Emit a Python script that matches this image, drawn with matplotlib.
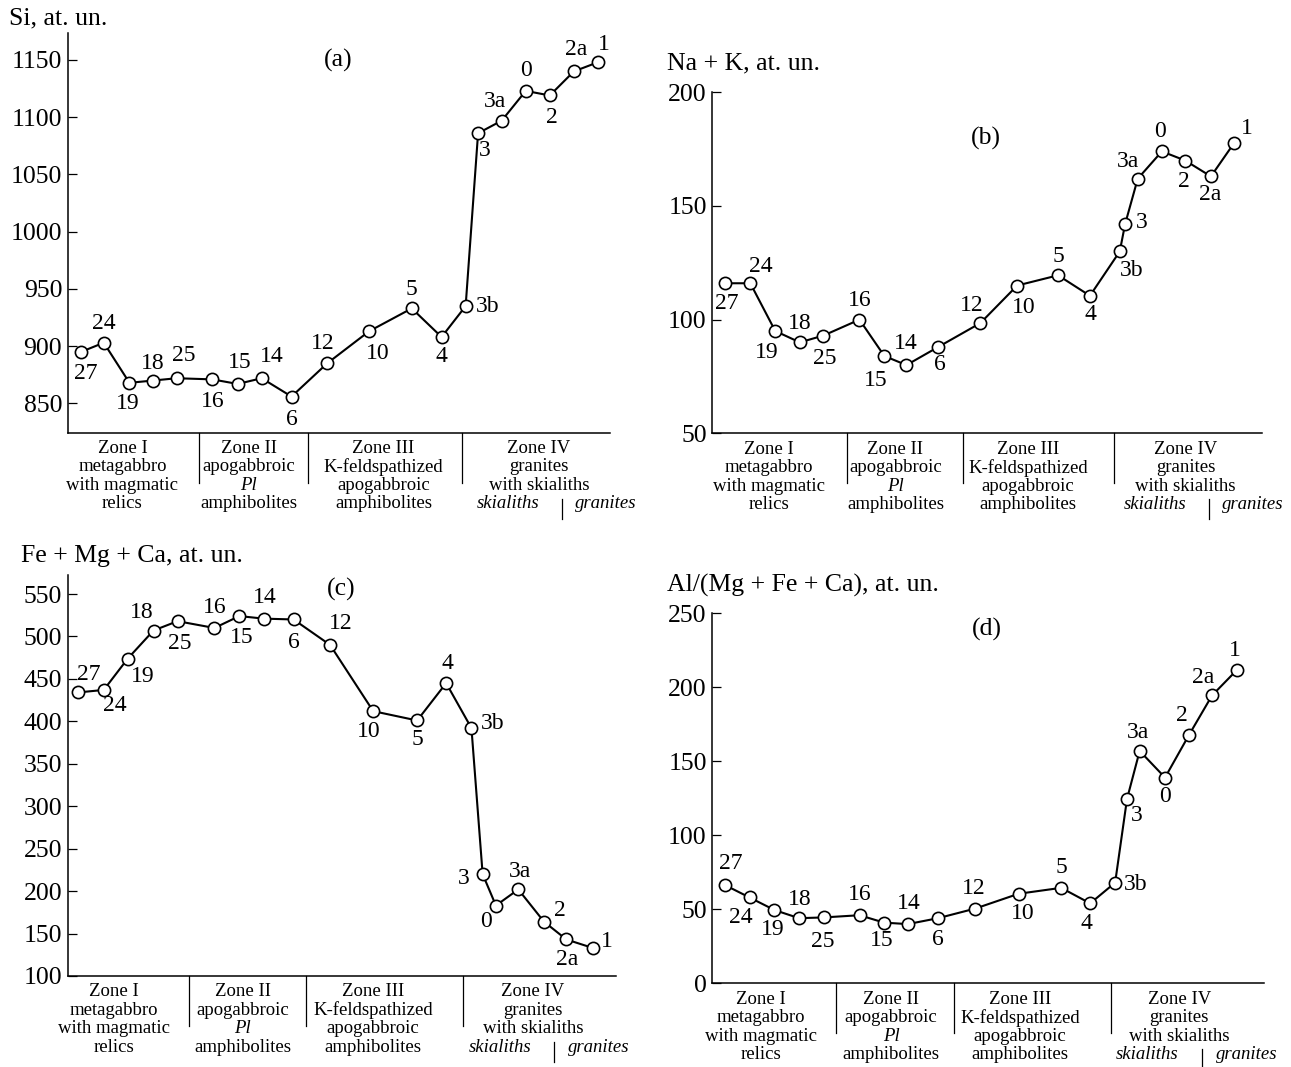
import matplotlib
matplotlib.use("Agg")
import matplotlib.pyplot as plt

plt.rcParams['font.family'] = ['Liberation Serif', 'DejaVu Serif']

# sample sequence along the profile
samples = ['27', '24', '19', '18', '25', '16', '15', '14', '6', '12',
           '10', '5', '4', '3b', '3', '3a', '0', '2', '2a', '1']
samples_c = ['27', '24', '19', '18', '25', '16', '15', '14', '6', '12',
             '10', '5', '4', '3b', '3', '0', '3a', '2', '2a', '1']

# distance along the profile (arbitrary units, one set per panel)
dist_a = [32, 87, 149, 206, 263, 349, 410, 468, 540, 626,
          727, 830, 902, 960, 990, 1047, 1105, 1163, 1221, 1279]
dist_b = [31, 93, 154, 214, 272, 360, 421, 475, 553, 656,
          746, 846, 924, 997, 1010, 1041, 1100, 1157, 1220, 1276]
dist_c = [24, 87, 145, 207, 265, 354, 414, 473, 545, 633,
          737, 843, 913, 974, 1001, 1033, 1087, 1149, 1203, 1267]
dist_d = [30, 91, 152, 212, 272, 360, 420, 478, 552, 643,
          749, 853, 924, 985, 1014, 1045, 1107, 1165, 1222, 1282]

# atomic units
si = [895, 903, 868, 870, 872, 871, 867, 872, 856, 885,
      913, 933, 908, 935, 1086, 1097, 1123, 1119, 1140, 1148]
na_k = [116, 116, 95, 90, 93, 100, 84, 80, 88, 98.5,
        115, 119.5, 110.5, 130, 142, 162, 174, 170, 163, 177.5]
fe_mg_ca = [434, 437, 474, 507, 518, 510, 524, 521, 520, 490,
            412, 401, 445, 392, 220, 183, 202, 164, 143, 133]
al_ratio = [66.5, 58, 49.5, 44, 44.5, 46, 41, 40, 44, 50.5,
            60.5, 64.5, 54, 68, 124.5, 157, 139, 167.5, 194.5, 211.5]

zone_lines = [
    [('Zone I', 'normal'), ('metagabbro', 'normal'), ('with magmatic', 'normal'), ('relics', 'normal')],
    [('Zone II', 'normal'), ('apogabbroic', 'normal'), ('Pl', 'italic'), ('amphibolites', 'normal')],
    [('Zone III', 'normal'), ('K-feldspathized', 'normal'), ('apogabbroic', 'normal'), ('amphibolites', 'normal')],
    [('Zone IV', 'normal'), ('granites', 'normal'), ('with skialiths', 'normal')],
]

# label offsets (pixels) for each point
offs_a = [(5, -22), (0, 19), (-2, -21), (0, 17), (7, 23), (0, -22), (2, 21), (10, 22), (0, -23), (-4, 20),
          (9, -22), (0, 19), (0, -19), (22, 0), (7, -17), (-7, 19), (0, 20), (2, -22), (2, 22), (6, 18)]
offs_b = [(2, -20), (11, 17), (-9, -22), (0, 19), (1, -23), (0, 19), (-9, -24), (-1, 22), (2, -18), (-9, 18),
          (7, -22), (0, 19), (0, -19), (12, -19), (17, 2), (-10, 17), (-2, 20), (-1, -21), (-1, -18), (13, 15)]
offs_c = [(11, 18), (11, -16), (15, -18), (-12, 18), (2, -22), (0, 20), (2, -21), (1, 21), (0, -23), (11, 21),
          (-4, -20), (0, -19), (1, 20), (21, 5), (-19, -4), (-10, -16), (2, 18), (16, 11), (1, -20), (14, 6)]
offs_d = [(6, 21), (-9, -20), (-2, -19), (1, 19), (-1, -24), (0, 21), (-2, -18), (1, 21), (0, -21), (-2, 20),
          (4, -20), (0, 20), (-4, -20), (21, -2), (10, -16), (-2, 18), (0, -19), (-7, 20), (-9, 18), (-2, 20)]

W, H = 1291, 1067
fig = plt.figure(figsize=(W / 100, H / 100), dpi=100)


def px_axes(left, right, top, bottom):
    return fig.add_axes([left / W, 1 - bottom / H, (right - left) / W, (bottom - top) / H])


panels = [
    dict(box=(67.7, 610.3, 33.3, 432.5), x=dist_a, y=si, names=samples, offs=offs_a,
         xmax=1309, ylim=(824.6, 1173.3), ticks=range(850, 1151, 50),
         title='Si, at. un.', tpos=(9, 18), tag='(a)', tagpos=(338, 60),
         divs=[317, 580, 952], sk=1192, centers=[132, 437, 762, 1137], skc=(1062, 1297)),
    dict(box=(712.3, 1262, 92.3, 433.3), x=dist_b, y=na_k, names=samples, offs=offs_b,
         xmax=1345, ylim=(50, 200), ticks=range(50, 201, 50),
         title='Na + K, at. un.', tpos=(667, 63), tag='(b)', tagpos=(986, 138),
         divs=[330, 613, 983], sk=1215, centers=[138, 448, 773, 1158], skc=(1083, 1323)),
    dict(box=(67.7, 615.7, 575, 976), x=dist_c, y=fe_mg_ca, names=samples_c, offs=offs_c,
         xmax=1322, ylim=(100, 572.4), ticks=range(100, 551, 50),
         title='Fe + Mg + Ca, at. un.', tpos=(21, 556), tag='(c)', tagpos=(341, 589),
         divs=[292, 575, 954], sk=1172, centers=[112, 422, 737, 1122], skc=(1042, 1282)),
    dict(box=(712.3, 1264, 613.3, 983.3), x=dist_d, y=al_ratio, names=samples, offs=offs_d,
         xmax=1349, ylim=(0, 250), ticks=range(0, 251, 50),
         title='Al/(Mg + Fe + Ca), at. un.', tpos=(667, 585), tag='(d)', tagpos=(987, 629),
         divs=[302, 592, 974], sk=1197, centers=[119, 437, 752, 1142], skc=(1062, 1307)),
]

line_off = [16, 34.4, 52.8, 71.2]

for p in panels:
    ax = px_axes(*p['box'])
    ax.plot(p['x'], p['y'], color='black', lw=1.5, marker='o', ms=8.8,
            mfc='white', mec='black', mew=1.2, zorder=3, clip_on=False)
    for xi, yi, name, (dx, dy) in zip(p['x'], p['y'], p['names'], p['offs']):
        ax.annotate(name, (xi, yi), xytext=(dx, dy), textcoords='offset pixels',
                    ha='center', va='center', fontsize=17)
    ax.set_xlim(0, p['xmax'])
    ax.set_ylim(*p['ylim'])
    ax.set_yticks(list(p['ticks']))
    ax.set_xticks([])
    for s in ['top', 'right']:
        ax.spines[s].set_visible(False)
    for s in ['left', 'bottom']:
        ax.spines[s].set_linewidth(1.1)
    ax.tick_params(axis='y', direction='in', length=6.5, width=0.9, labelsize=18.5, pad=4)

    # zone boundaries and captions below the profile
    hpx = ax.bbox.height
    xt = ax.get_xaxis_transform()
    for d in p['divs']:
        ax.plot([d, d], [0, -50 / hpx], color='black', lw=0.9, transform=xt, clip_on=False)
    ax.plot([p['sk'], p['sk']], [-66 / hpx, -86 / hpx], color='black', lw=0.9,
            transform=xt, clip_on=False)
    for cx, lines in zip(p['centers'], zone_lines):
        for k, (txt, style) in enumerate(lines):
            ax.annotate(txt, (cx, 0), xycoords=xt, xytext=(0, -line_off[k]),
                        textcoords='offset pixels', ha='center', va='center',
                        fontsize=13.5, style=style)
    for cx, txt in zip(p['skc'], ['skialiths', 'granites']):
        ax.annotate(txt, (cx, 0), xycoords=xt, xytext=(0, -line_off[3]),
                    textcoords='offset pixels', ha='center', va='center',
                    fontsize=13.5, style='italic')

    fig.text(p['tpos'][0] / W, 1 - p['tpos'][1] / H, p['title'], ha='left', va='center', fontsize=18.5)
    fig.text(p['tagpos'][0] / W, 1 - p['tagpos'][1] / H, p['tag'], ha='center', va='center', fontsize=18.5)

fig.savefig('out.png', dpi=100)
